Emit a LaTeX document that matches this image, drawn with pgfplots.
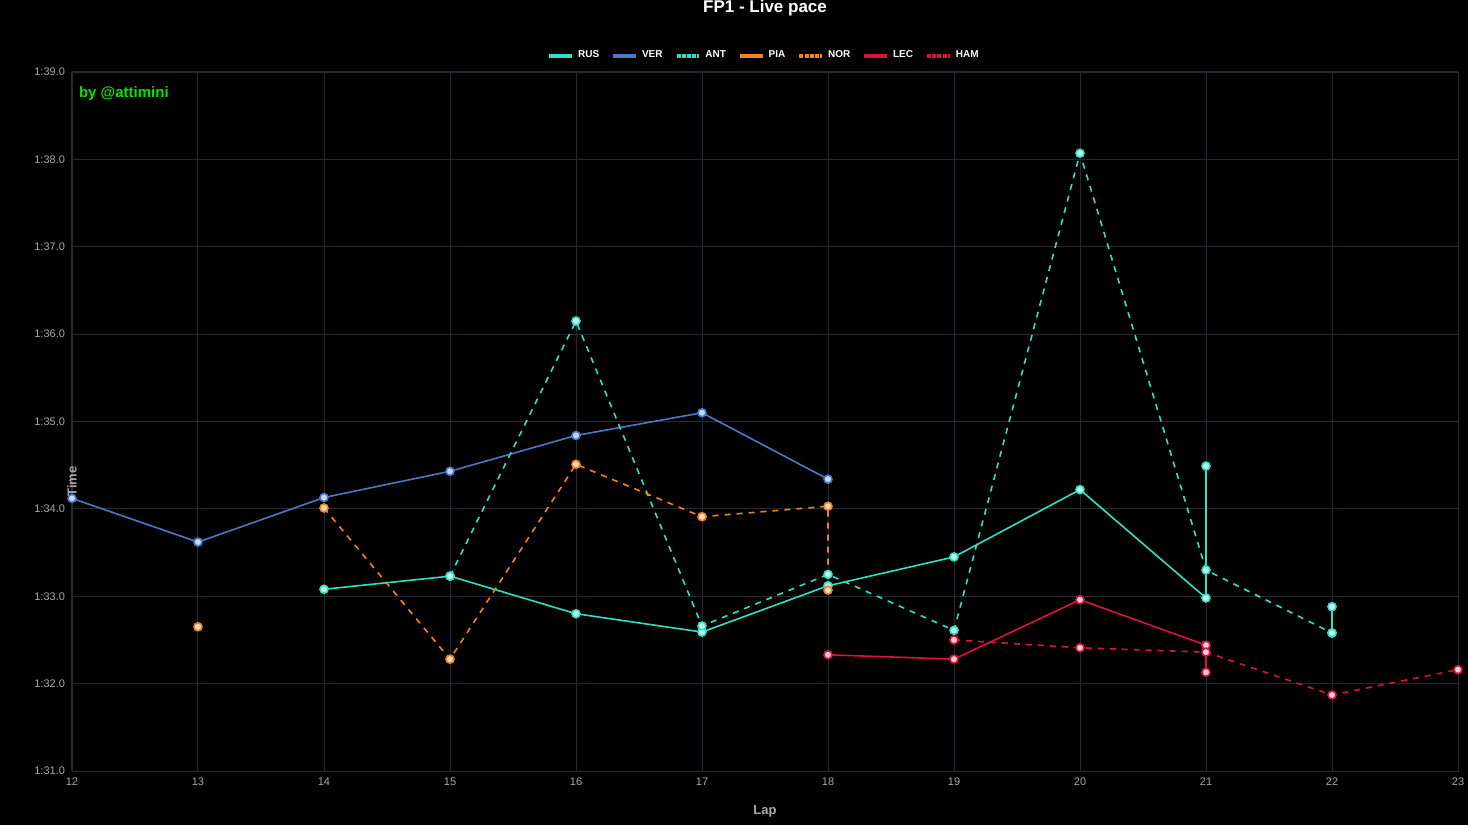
\documentclass[border=0pt]{standalone}
\usepackage{pgfplots}
\pgfplotsset{compat=1.18}
\usepackage{fontspec}
\setmainfont{Liberation Sans}
\definecolor{rus}{HTML}{2FE0C2}
\definecolor{ver}{HTML}{4A78C8}
\definecolor{mcl}{HTML}{F5801E}
\definecolor{fer}{HTML}{E0103A}
\definecolor{gridc}{HTML}{262832}
\definecolor{txt}{HTML}{A8A8A8}
\begin{document}
\begin{tikzpicture}
\fill[black] (-36pt,-27pt) rectangle (698pt,385.5pt);
\begin{axis}[
  at={(0,0)}, anchor=south west,
  scale only axis, width=693pt, height=349.5pt,
  xmin=12, xmax=23, ymin=91, ymax=99,
  xtick={12,...,23}, ytick={91,...,99},
  yticklabels={1:31.0,1:32.0,1:33.0,1:34.0,1:35.0,1:36.0,1:37.0,1:38.0,1:39.0},
  /pgf/number format/assume math mode=true,
  ticklabel style={font=\fontsize{5.5}{6}\selectfont, color=txt},
  grid=major, grid style={gridc, line width=0.5pt},
  axis line style={gridc}, tick style={draw=none},
  xlabel={\textbf{Lap}}, ylabel={\textbf{Time}},
  label style={font=\fontsize{6.5}{7}\selectfont, color=txt},
  xlabel style={at={(0.5,0)}, anchor=center, yshift=-20pt},
  ylabel style={at={(0,0.5)}, anchor=center, xshift=-30pt, rotate=0},
  title={\textbf{FP1 - Live pace}},
  title style={font=\fontsize{8.5}{9}\selectfont, color=white, at={(0.5,1)}, anchor=center, yshift=26pt},
  unbounded coords=jump,
  legend columns=7,
  legend style={at={(0.5,1)}, anchor=center, yshift=8pt, fill=none, draw=none,
    text=white, font=\bfseries\fontsize{5}{6}\selectfont,
    /tikz/every even column/.append style={column sep=4pt}},
  legend image code/.code={\draw[#1, line width=2pt, mark=none, dash pattern=on 2pt off 0.6pt] (0cm,0cm) -- (0.4cm,0cm);},
  every axis plot/.append style={line width=0.8pt, mark=*, mark size=2pt},
  clip=false,
]
\addplot[rus, mark options={fill=white!70!rus, solid}, legend image code/.code={\draw[rus, line width=2pt] (0cm,0cm) -- (0.4cm,0cm);}] coordinates {(14,93.08)(15,93.23)(16,92.80)(17,92.59)(18,93.12)(19,93.45)(20,94.22)(21,92.98)(21,94.49)(21.5,nan)(22,92.88)(22,92.58)};
\addlegendentry{RUS}
\addplot[ver, mark options={fill=white!70!ver, solid}, legend image code/.code={\draw[ver, line width=2pt] (0cm,0cm) -- (0.4cm,0cm);}] coordinates {(12,94.12)(13,93.62)(14,94.13)(15,94.43)(16,94.84)(17,95.10)(18,94.34)};
\addlegendentry{VER}
\addplot[rus, dashed, mark options={fill=white!70!rus, solid}] coordinates {(15,93.23)(16,96.15)(17,92.66)(18,93.25)(19,92.61)(20,98.07)(21,93.30)(22,92.58)};
\addlegendentry{ANT}
\addplot[mcl, mark options={fill=white!70!mcl, solid}, legend image code/.code={\draw[mcl, line width=2pt] (0cm,0cm) -- (0.4cm,0cm);}] coordinates {(13,92.65)};
\addlegendentry{PIA}
\addplot[mcl, dashed, mark options={fill=white!70!mcl, solid}] coordinates {(14,94.01)(15,92.28)(16,94.51)(17,93.91)(18,94.03)(18,93.07)};
\addlegendentry{NOR}
\addplot[fer, mark options={fill=white!80!fer, solid}, legend image code/.code={\draw[fer, line width=2pt] (0cm,0cm) -- (0.4cm,0cm);}] coordinates {(18,92.33)(19,92.28)(20,92.96)(21,92.44)(21,92.13)};
\addlegendentry{LEC}
\addplot[fer, dashed, mark options={fill=white!80!fer, solid}] coordinates {(19,92.50)(20,92.41)(21,92.36)(22,91.87)(23,92.16)};
\addlegendentry{HAM}
\node[anchor=west, text=green!90!black, font=\bfseries\fontsize{7.5}{8}\selectfont] at (axis cs:12.0,98.75) {by @attimini};
\end{axis}
\pgfresetboundingbox
\useasboundingbox (-36pt,-27pt) rectangle (698pt,385.5pt);
\end{tikzpicture}
\end{document}
